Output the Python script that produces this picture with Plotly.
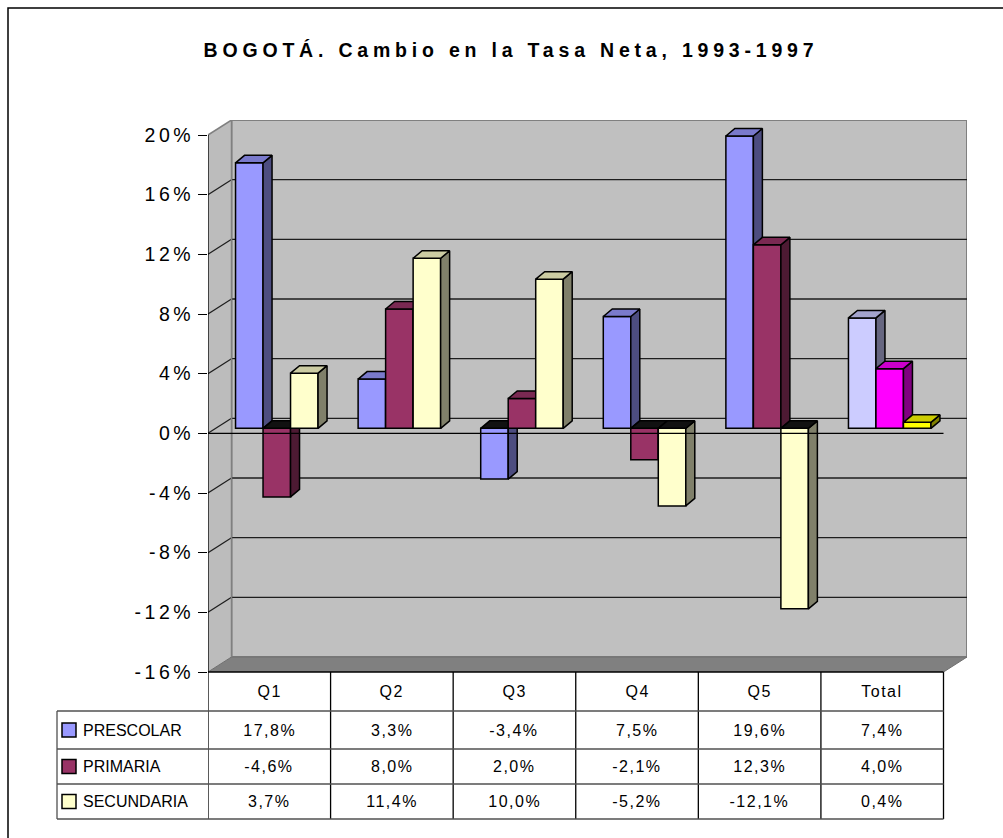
import plotly.graph_objects as go

# ---------------- data ----------------
categories = ["Q1", "Q2", "Q3", "Q4", "Q5", "Total"]
series_names = ["PRESCOLAR", "PRIMARIA", "SECUNDARIA"]
prescolar = [17.8, 3.3, -3.4, 7.5, 19.6, 7.4]
primaria = [-4.6, 8.0, 2.0, -2.1, 12.3, 4.0]
secundaria = [3.7, 11.4, 10.0, -5.2, -12.1, 0.4]
y_ticks = [-16, -12, -8, -4, 0, 4, 8, 12, 16, 20]
title_text = "BOGOTÁ. Cambio en la Tasa Neta, 1993-1997"

series_values = [prescolar, primaria, secundaria]

# ---------------- styles ----------------
FONT = "Liberation Sans, Arial, sans-serif"
front_colors = [["#9999FF"] * 5 + ["#CCCCFF"],
                ["#993366"] * 5 + ["#FF00FF"],
                ["#FFFFCC"] * 5 + ["#FFFF00"]]
side_colors = [["#4D4D80"] * 5 + ["#666680"],
               ["#4D1A33"] * 5 + ["#800080"],
               ["#80806A"] * 5 + ["#808000"]]
top_colors = [["#7A7ACC"] * 5 + ["#A3A3CC"],
              ["#7A2952"] * 5 + ["#CC00CC"],
              ["#CCCCA3"] * 5 + ["#CCCC00"]]
legend_colors = ["#9999FF", "#993366", "#FFFFCC"]
NEG_TOP = "#111111"
WALL = "#C0C0C0"
FLOOR = "#808080"
EDGE = "#808080"

# ---------------- geometry (pixels) ----------------
W, H = 1003, 838
L, T, PW, PH = 208, 120, 759, 552
R, B = W - L - PW, H - T - PH
n = len(categories)
WALL_DX_PX, WALL_DY_PX = 23.5, 15.0
ymin, yspan = y_ticks[0], y_ticks[-1] - y_ticks[0]

px_per_y = (PH - WALL_DY_PX) / yspan
DYW = WALL_DY_PX / px_per_y
ymax = y_ticks[-1] + DYW
xmax = n / (1 - WALL_DX_PX / PW)
px_per_x = PW / xmax
DXW = WALL_DX_PX / px_per_x

BW = 27.5 / px_per_x     # bar width
DX0 = 7.5 / px_per_x     # bar plane shift
DY0 = 5.0 / px_per_y
DXB = 9.0 / px_per_x     # bar depth
DYB = 7.5 / px_per_y


def pxx(px):
    return (px - L) / PW


def pxy(py):
    return (T + PH - py) / PH


fig = go.Figure()

# bars: front faces as Bar traces, side/top faces as filled polygons
for j, vals in enumerate(series_values):
    xa = "x" if j == 0 else f"x{j + 1}"
    ya = "y" if j == 0 else f"y{j + 1}"
    xs = [i + 0.5 + DX0 + (j - 1) * BW for i in range(n)]
    fig.add_trace(go.Bar(
        x=xs, y=vals, base=[DY0] * n, width=BW, name=series_names[j],
        marker=dict(color=front_colors[j], line=dict(color="black", width=1.5)),
        xaxis=xa, yaxis=ya, showlegend=False, hoverinfo="skip"))
    for i, v in enumerate(vals):
        xl, xr = xs[i] - BW / 2, xs[i] + BW / 2
        lo, hi = min(DY0, DY0 + v), max(DY0, DY0 + v)
        fig.add_trace(go.Scatter(
            x=[xr, xr, xr + DXB, xr + DXB, xr],
            y=[lo, hi, hi + DYB, lo + DYB, lo],
            mode="lines", fill="toself", fillcolor=side_colors[j][i],
            line=dict(color="black", width=1.5),
            xaxis=xa, yaxis=ya, showlegend=False, hoverinfo="skip"))
        fig.add_trace(go.Scatter(
            x=[xl, xr, xr + DXB, xl + DXB, xl],
            y=[hi, hi, hi + DYB, hi + DYB, hi],
            mode="lines", fill="toself",
            fillcolor=top_colors[j][i] if v >= 0 else NEG_TOP,
            line=dict(color="black", width=1.5),
            xaxis=xa, yaxis=ya, showlegend=False, hoverinfo="skip"))

shapes = []
# back wall
shapes.append(dict(type="rect", xref="x", yref="y", x0=DXW, x1=xmax,
                   y0=ymin + DYW, y1=ymax, fillcolor=WALL,
                   line=dict(color=EDGE, width=2), layer="below"))
# left wall
shapes.append(dict(type="path", xref="x", yref="y",
                   path=f"M0,{ymin} L0,{y_ticks[-1]} L{DXW},{ymax} L{DXW},{ymin + DYW} Z",
                   fillcolor="#BCBCBC", line=dict(width=0), layer="below"))
# floor
shapes.append(dict(type="path", xref="x", yref="y",
                   path=f"M0,{ymin} L{n},{ymin} L{xmax},{ymin + DYW} L{DXW},{ymin + DYW} Z",
                   fillcolor=FLOOR, line=dict(color="#6E6E6E", width=1), layer="below"))
# gridlines on back wall and left wall
for t in y_ticks[1:-1]:
    shapes.append(dict(type="line", xref="x", yref="y", x0=DXW, x1=xmax,
                       y0=t + DYW, y1=t + DYW,
                       line=dict(color="#1E1E1E", width=1.3), layer="below"))
    shapes.append(dict(type="line", xref="x", yref="y", x0=0, x1=DXW,
                       y0=t, y1=t + DYW,
                       line=dict(color="#1E1E1E", width=1.2), layer="below"))
shapes.append(dict(type="line", xref="x", yref="y", x0=0, x1=DXW,
                   y0=y_ticks[-1], y1=ymax, line=dict(color=EDGE, width=1.5), layer="below"))
shapes.append(dict(type="line", xref="x", yref="y", x0=DXW, x1=DXW,
                   y0=ymin + DYW, y1=ymax, line=dict(color=EDGE, width=1.5), layer="below"))
# value axis line
shapes.append(dict(type="line", xref="x", yref="y", x0=0, x1=0,
                   y0=ymin, y1=y_ticks[-1], line=dict(color="black", width=1.3), layer="below"))
# front zero line (above bars)
shapes.append(dict(type="line", xref="x", yref="y", x0=0, x1=n, y0=0, y1=0,
                   line=dict(color="black", width=1.3), layer="above"))

# data table
row_edges = [672, 711, 749, 784, 819]
shapes.append(dict(type="line", xref="x", yref="paper", x0=0, x1=n,
                   y0=pxy(row_edges[0]), y1=pxy(row_edges[0]),
                   line=dict(color="black", width=1.3)))
for k in range(n + 1):
    shapes.append(dict(type="line", xref="x", yref="paper", x0=k, x1=k,
                       y0=pxy(row_edges[0]), y1=pxy(row_edges[-1]),
                       line=dict(color="black", width=1.3)))
for py in row_edges[1:]:
    shapes.append(dict(type="line", xref="paper", yref="paper", x0=pxx(57), x1=pxx(L + n * px_per_x),
                       y0=pxy(py), y1=pxy(py), line=dict(color="#505050", width=1.3)))
shapes.append(dict(type="line", xref="paper", yref="paper", x0=pxx(57), x1=pxx(57),
                   y0=pxy(row_edges[1]), y1=pxy(row_edges[-1]),
                   line=dict(color="#505050", width=1.3)))
# legend keys
for j in range(3):
    cy = (row_edges[j + 1] + row_edges[j + 2]) / 2
    shapes.append(dict(type="rect", xref="paper", yref="paper",
                       x0=pxx(62), x1=pxx(76), y0=pxy(cy + 7), y1=pxy(cy - 7),
                       fillcolor=legend_colors[j], line=dict(color="black", width=1.5)))
# outer chart border
shapes.append(dict(type="rect", xref="paper", yref="paper",
                   x0=pxx(8), x1=pxx(W + 20), y0=pxy(H + 20), y1=pxy(8),
                   line=dict(color="black", width=1.5), fillcolor="rgba(0,0,0,0)"))

annotations = []
annotations.append(dict(text=f"<b>{title_text}</b>", xref="paper", yref="paper",
                        x=pxx(511), y=pxy(50), xanchor="center", yanchor="middle",
                        showarrow=False, font=dict(family=FONT, size=19.5, color="black")))
for i, c in enumerate(categories):
    annotations.append(dict(text=c, xref="x", yref="paper", x=i + 0.5,
                            y=pxy((row_edges[0] + row_edges[1]) / 2),
                            xanchor="center", yanchor="middle", showarrow=False,
                            font=dict(family=FONT, size=16, color="black")))
for j, vals in enumerate(series_values):
    cy = (row_edges[j + 1] + row_edges[j + 2]) / 2
    annotations.append(dict(text=series_names[j], xref="paper", yref="paper",
                            x=pxx(81), y=pxy(cy), xanchor="left", yanchor="middle",
                            showarrow=False, font=dict(family=FONT, size=16, color="black")))
    for i, v in enumerate(vals):
        annotations.append(dict(text=f"{v:.1f}".replace(".", ",") + "%", xref="x", yref="paper",
                                x=i + 0.5, y=pxy(cy), xanchor="center", yanchor="middle",
                                showarrow=False, font=dict(family=FONT, size=16, color="black")))

hidden = dict(visible=False, showgrid=False, zeroline=False)
fig.update_layout(
    width=W, height=H, margin=dict(l=L, r=R, t=T, b=B, autoexpand=False),
    paper_bgcolor="white", plot_bgcolor="white",
    barmode="overlay", showlegend=False,
    shapes=shapes, annotations=annotations,
    xaxis=dict(range=[0, xmax], **hidden),
    yaxis=dict(range=[ymin, ymax], tickvals=y_ticks, ticktext=[f"{t}%" for t in y_ticks],
               ticks="outside", ticklen=9, tickwidth=1.3, tickcolor="black",
               showgrid=False, zeroline=False, showline=False,
               tickfont=dict(family=FONT, size=19.5, color="black")),
    xaxis2=dict(range=[0, xmax], overlaying="x", **hidden),
    yaxis2=dict(range=[ymin, ymax], overlaying="y", **hidden),
    xaxis3=dict(range=[0, xmax], overlaying="x", **hidden),
    yaxis3=dict(range=[ymin, ymax], overlaying="y", **hidden),
)

title_idx = 0
label_idx = [1 + n + j * (n + 1) for j in range(3)]
css = (".ytick text{letter-spacing:3.5px}"
       ".annotation text{letter-spacing:1.5px}"
       f'.annotation[data-index="{title_idx}"] text{{letter-spacing:4.8px}}'
       + "".join(f'.annotation[data-index="{k}"] text{{letter-spacing:0px}}' for k in label_idx))
post = ("document.body.style.margin='0';"
        "var s=document.createElement('style');"
        f"s.textContent='{css}';"
        "document.head.appendChild(s);")

fig.write_html("out.html", post_script=post, config={"displayModeBar": False})
